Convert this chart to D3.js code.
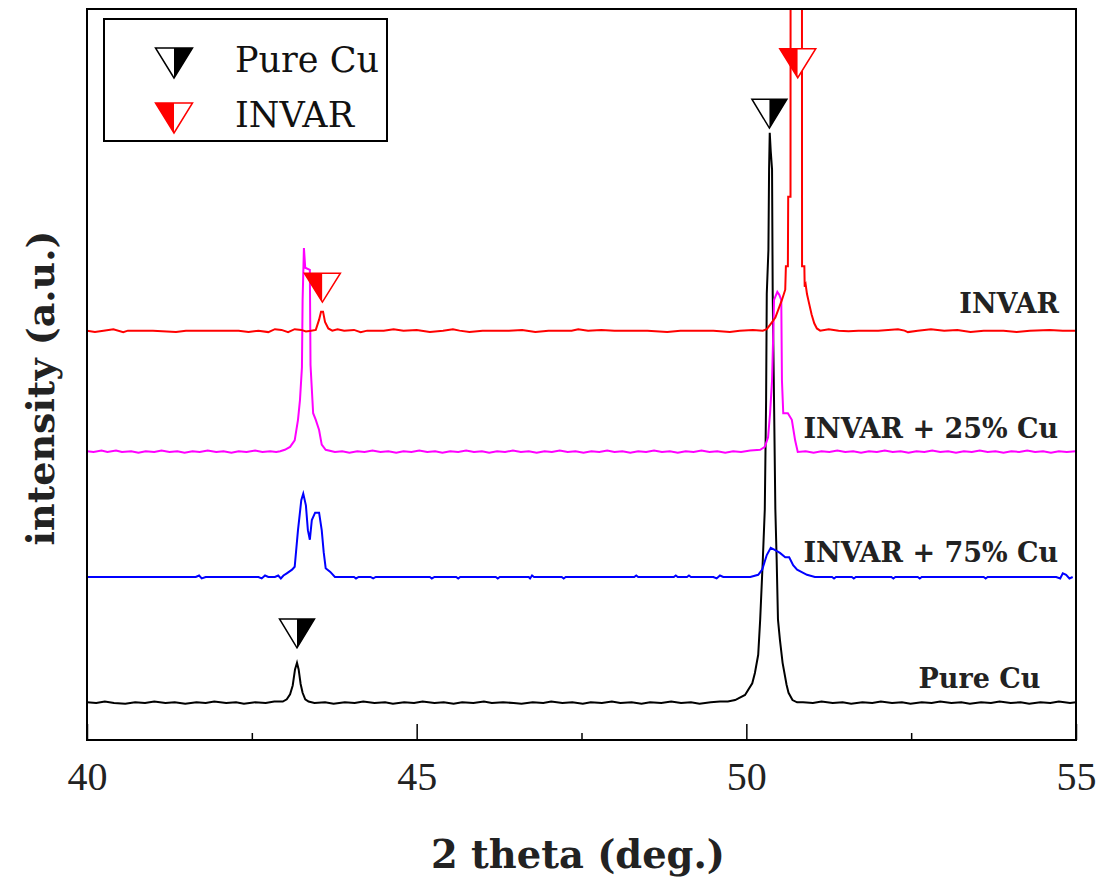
<!DOCTYPE html>
<html>
<head>
<meta charset="utf-8">
<script src="https://cdn.jsdelivr.net/npm/d3@7"></script>
<style>
  body { margin: 0; background: #fff; }
  svg { display: block; }
</style>
</head>
<body>
<div id="chart"></div>
<script>
// XRD patterns, [2theta (deg), intensity above own baseline (a.u.)]
const pureCu = [
  [40.00,0.1],[40.14,0],[40.27,0.2],[40.41,0],[40.58,-0.1],[40.73,0.1],[40.88,0],[41.02,0.2],[41.19,0],[41.33,0.1],
  [41.49,-0.1],[41.66,0.1],[41.80,0],[41.93,0.2],[42.11,0],[42.26,0.1],[42.38,-0.1],[42.55,0.1],[42.71,0],[42.84,0.2],
  [42.97,0.2],[43.03,0.5],[43.08,1.2],[43.12,2.4],[43.155,4.6],[43.185,5.5],[43.21,4.6],[43.24,2.6],[43.27,1.4],[43.31,0.5],
  [43.36,0.2],[43.45,0],[43.61,0.1],[43.74,-0.1],[43.91,0.1],[44.06,0],[44.19,0.2],[44.36,0],[44.52,0.1],[44.64,-0.1],
  [44.81,0.1],[44.96,0],[45.09,0.2],[45.27,0],[45.41,0.1],[45.56,-0.1],[45.69,0.1],[45.86,0],[46.02,0.2],[46.14,0],
  [46.31,0.1],[46.47,0],[46.59,-0.1],[46.76,0.1],[46.92,0],[47.04,0.2],[47.21,0],[47.36,0.1],[47.52,-0.1],[47.64,0.1],
  [47.81,0],[47.96,0.2],[48.09,0],[48.26,0.1],[48.41,-0.1],[48.54,0.1],[48.71,0],[48.86,0.2],[49.01,0],[49.16,0.1],
  [49.29,-0.1],[49.46,0.1],[49.60,0.2],[49.72,0.2],[49.83,0.4],[49.98,1.1],[50.09,2.7],[50.13,4.1],[50.18,6.6],[50.21,11.4],
  [50.25,19.6],[50.28,26.5],[50.30,41.5],[50.31,56],[50.335,62],[50.345,73],[50.355,78],[50.37,75.5],[50.39,73],[50.40,56],
  [50.42,41.5],[50.44,26.5],[50.46,19.6],[50.48,11.4],[50.51,8.6],[50.55,5.5],[50.61,2.5],[50.64,1.4],[50.70,0.4],[50.77,0.1],
  [50.86,0.1],[51.01,0],[51.14,0.2],[51.31,0],[51.46,0.1],[51.59,-0.1],[51.76,0.1],[51.91,0],[52.04,0.2],[52.21,0],
  [52.36,0.1],[52.49,-0.1],[52.66,0.1],[52.81,0],[52.94,0.2],[53.11,0],[53.26,0.1],[53.39,-0.1],[53.56,0.1],[53.71,0],
  [53.84,0.2],[54.01,0],[54.16,0.1],[54.29,-0.1],[54.46,0.1],[54.61,0],[54.74,0.2],[54.91,0],[55.00,0.1]
];
const cu75 = [
  [40.00,0],[40.40,0],[40.80,0],[41.20,0],[41.65,0],[41.70,0.2],[41.74,-0.2],[41.80,0],[42.30,0],[42.60,0],
  [42.65,-0.2],[42.70,0.2],[42.75,0],[42.85,0],[42.90,0.2],[42.94,-0.2],[42.98,0.2],[43.03,0.5],[43.11,1.0],[43.15,1.4],
  [43.20,6.4],[43.25,10.5],[43.28,11.4],[43.32,9.8],[43.35,6.4],[43.38,5.1],[43.41,7.8],[43.46,8.8],[43.52,8.8],[43.56,6.4],
  [43.59,3.4],[43.62,1.2],[43.69,0.7],[43.76,0],[43.84,0],[44.05,0],[44.08,-0.2],[44.12,0],[44.30,0],[44.34,-0.2],
  [44.38,0],[45.20,0],[45.23,-0.2],[45.27,0],[45.60,0],[45.63,-0.2],[45.66,0],[46.20,0],[46.23,-0.2],[46.26,0],
  [46.70,0],[46.72,-0.2],[46.75,0.2],[46.78,0],[47.20,0],[47.23,-0.2],[47.26,0],[48.30,0],[48.33,0.2],[48.36,0],
  [48.90,0],[48.93,0.2],[48.96,0],[49.10,0],[49.13,0.2],[49.16,0],[49.50,0],[49.55,-0.2],[49.60,0.2],[49.65,0],
  [50.06,0],[50.18,0.3],[50.24,1.0],[50.31,3.0],[50.37,4.0],[50.43,3.7],[50.51,3.3],[50.59,2.7],[50.65,2.7],[50.71,1.6],
  [50.77,1.0],[50.92,0.3],[51.04,0],[51.30,0],[51.33,-0.2],[51.36,0],[51.60,0],[51.63,-0.2],[51.66,0],[52.20,0],
  [52.23,-0.2],[52.26,0],[52.60,0],[52.63,-0.2],[52.66,0],[53.60,0],[53.63,-0.2],[53.66,0],[54.70,0],[54.76,-0.2],
  [54.80,0.5],[54.85,0.3],[54.90,-0.2],[54.95,0]
];
const cu25 = [
  [40.00,0.1],[40.10,0],[40.22,0.2],[40.31,0],[40.44,0.2],[40.53,0],[40.67,0.1],[40.78,-0.1],[40.89,0.1],[41.02,0],
  [41.13,0.2],[41.25,0],[41.37,0.1],[41.48,-0.1],[41.60,0.1],[41.71,0],[41.83,0.2],[41.96,0],[42.07,0.1],[42.19,-0.1],
  [42.30,0.1],[42.42,0],[42.55,0.2],[42.66,0],[42.78,0.1],[42.87,0],[42.93,0.1],[43.00,0.3],[43.08,0.7],[43.15,1.6],
  [43.20,4.4],[43.23,7.1],[43.26,11.6],[43.27,20.8],[43.29,27.9],[43.31,25.2],[43.38,24.9],[43.39,11.9],[43.43,5.3],[43.47,4.4],
  [43.52,3.0],[43.56,1.0],[43.62,0.3],[43.76,0],[43.87,0.1],[43.98,-0.1],[44.10,0.1],[44.21,0],[44.33,0.2],[44.45,0],
  [44.57,0.1],[44.69,-0.1],[44.80,0.1],[44.92,0],[45.04,0.2],[45.16,0],[45.28,0.1],[45.39,-0.1],[45.51,0.1],[45.63,0],
  [45.75,0.2],[45.87,0],[45.99,0.1],[46.10,-0.1],[46.22,0.1],[46.34,0],[46.46,0.2],[46.58,0],[46.70,0.1],[46.82,-0.1],
  [46.94,0.1],[47.05,0],[47.17,0.2],[47.29,0],[47.41,0.1],[47.53,-0.1],[47.65,0.1],[47.77,0],[47.89,0.2],[48.00,0],
  [48.12,0.1],[48.24,-0.1],[48.36,0.1],[48.48,0],[48.60,0.2],[48.72,0],[48.84,0.1],[48.96,-0.1],[49.08,0.1],[49.20,0],
  [49.32,0.2],[49.44,0],[49.56,0.1],[49.68,-0.1],[49.80,0.1],[49.92,0],[50.06,0.2],[50.21,0.3],[50.28,0.7],[50.33,2.0],
  [50.36,5.3],[50.39,9.8],[50.41,16.8],[50.42,20.8],[50.47,21.9],[50.50,21.5],[50.53,20.8],[50.54,9.8],[50.56,5.3],[50.63,5.3],
  [50.69,4.4],[50.74,1.6],[50.78,0],[50.90,0.1],[51.02,-0.1],[51.14,0.1],[51.26,0],[51.38,0.2],[51.50,0],[51.62,0.1],
  [51.74,-0.1],[51.86,0.1],[51.98,0],[52.10,0.2],[52.22,0],[52.34,0.1],[52.46,-0.1],[52.58,0.1],[52.70,0],[52.82,0.2],
  [52.94,0],[53.06,0.1],[53.18,-0.1],[53.30,0.1],[53.42,0],[53.54,0.2],[53.66,0],[53.78,0.1],[53.90,-0.1],[54.02,0.1],
  [54.14,0],[54.26,0.2],[54.38,0],[54.50,0.1],[54.62,-0.1],[54.74,0.1],[54.86,0],[55.00,0.1]
];
const invar = [
  [40.00,0],[40.12,-0.2],[40.25,0],[40.40,0.2],[40.55,-0.2],[40.62,0],[41.00,0],[41.35,-0.2],[41.50,0],[41.90,0],
  [42.30,0],[42.45,-0.2],[42.60,0],[42.75,-0.2],[42.85,0.2],[42.95,0.1],[43.05,-0.2],[43.15,0.2],[43.25,0.1],[43.32,-0.1],
  [43.40,0],[43.47,0.1],[43.52,1.5],[43.55,2.6],[43.58,2.6],[43.61,1.2],[43.66,0.3],[43.72,0],[43.80,0.2],[43.90,0],
  [44.05,0.1],[44.15,-0.2],[44.25,0],[44.50,0],[44.65,0.2],[44.80,0],[45.00,0.1],[45.20,-0.2],[45.40,0],[45.55,0.2],
  [45.65,0],[45.80,-0.2],[46.00,0],[46.40,0],[46.60,0.1],[46.80,-0.2],[47.00,0],[47.35,0],[47.45,0.2],[47.60,0],
  [47.80,0.1],[48.00,0],[48.50,0],[48.80,-0.2],[49.00,0],[49.50,0],[49.75,-0.2],[49.90,0],[50.10,0.1],[50.25,0],
  [50.31,0.2],[50.36,0.8],[50.44,1.8],[50.54,4.2],[50.59,5.6],[50.60,8.8],[50.63,8.8],[50.635,18.3],[50.67,18.3],[50.675,150],
  [50.76,170],[50.84,150],[50.845,8.8],[50.88,8.8],[50.885,6.0],[50.90,6.3],[50.92,5.0],[50.95,3.8],[50.99,2.2],[51.03,1.0],
  [51.07,0.3],[51.12,0],[51.25,0.2],[51.40,0],[51.55,-0.1],[51.70,0],[52.00,0],[52.30,0.2],[52.40,0],[52.45,-0.2],
  [52.60,0],[52.80,0.2],[53.00,0],[53.20,0.1],[53.40,-0.2],[53.60,0],[53.90,0],[54.10,-0.2],[54.30,0],[54.60,0.1],
  [54.80,0],[55.00,0]
];

const seriesNames = ["Pure Cu", "INVAR + 75% Cu", "INVAR + 25% Cu", "INVAR"];
const seriesData = [pureCu, cu75, cu25, invar];
const seriesOffsets = [5.06, 22.3, 39.4, 56.0];
const seriesColors = ["#000000", "#0000ff", "#ff00ff", "#ff0000"];
// where each curve's name is written (2theta, absolute a.u.)
const labelX = [54.46, 54.73, 54.73, 54.74];
const labelY = [7.1, 24.4, 41.3, 58.4];

// peak markers: tip position [2theta, absolute a.u.]
const cuMarks = [[43.185, 12.6], [50.35, 83.7]];
const invarMarks = [[43.57, 59.9], [50.78, 90.6]];

const majorTicks = [40, 45, 50, 55];
const minorTicks = [42.5, 47.5, 52.5];

const svg = d3.select("#chart").append("svg")
  .attr("width", 1099)
  .attr("height", 881);

const x = d3.scaleLinear().domain([40, 55]).range([87, 1076]);
const y = d3.scaleLinear().domain([0, 100]).range([740, 9]);

svg.append("defs").append("clipPath")
  .attr("id", "plot-clip")
  .append("rect")
  .attr("x", 87).attr("y", 9)
  .attr("width", 1076 - 87).attr("height", 740 - 9);

const plot = svg.append("g").attr("clip-path", "url(#plot-clip)");

seriesData.forEach((data, i) => {
  const line = d3.line()
    .x(d => x(d[0]))
    .y(d => y(seriesOffsets[i] + d[1]));
  plot.append("path")
    .datum(data)
    .attr("d", line)
    .attr("fill", "none")
    .attr("stroke", seriesColors[i])
    .attr("stroke-width", 2)
    .attr("stroke-linejoin", "miter");
});

// half filled down-triangle, tip at (0,0)
function marker(g, color, filledSide, w, h) {
  const left = [[-w / 2, -h], [0, -h], [0, 0]];
  const right = [[0, -h], [w / 2, -h], [0, 0]];
  g.append("path")
    .attr("d", d3.line()(left) + "Z")
    .attr("fill", filledSide === "left" ? color : "#fff");
  g.append("path")
    .attr("d", d3.line()(right) + "Z")
    .attr("fill", filledSide === "right" ? color : "#fff");
  g.append("path")
    .attr("d", d3.line()([[-w / 2, -h], [w / 2, -h], [0, 0]]) + "Z")
    .attr("fill", "none")
    .attr("stroke", color)
    .attr("stroke-width", 1.5);
}

cuMarks.forEach(d => {
  marker(svg.append("g").attr("transform", `translate(${x(d[0])},${y(d[1])})`), "#000", "right", 35, 29);
});
invarMarks.forEach(d => {
  marker(svg.append("g").attr("transform", `translate(${x(d[0])},${y(d[1])})`), "#ff0000", "left", 36, 29);
});

// frame
svg.append("rect")
  .attr("x", 87).attr("y", 9)
  .attr("width", 1076 - 87).attr("height", 740 - 9)
  .attr("fill", "none")
  .attr("stroke", "#000")
  .attr("stroke-width", 2);

const xAxis = svg.append("g")
  .attr("transform", "translate(0,740)")
  .call(d3.axisBottom(x).tickValues(majorTicks).tickSizeInner(-16).tickSizeOuter(0).tickPadding(22).tickFormat(d3.format("d")));
xAxis.select(".domain").remove();
xAxis.selectAll(".tick line").attr("stroke-width", 1.5);
xAxis.selectAll(".tick text")
  .attr("dy", "0.71em")
  .style("font-family", "'Liberation Serif', serif")
  .style("font-size", "40px")
  .attr("fill", "#222");

svg.append("g")
  .attr("transform", "translate(0,740)")
  .call(d3.axisBottom(x).tickValues(minorTicks).tickSizeInner(-7).tickSizeOuter(0).tickFormat(""))
  .call(g => g.select(".domain").remove())
  .selectAll(".tick line").attr("stroke-width", 1.5);

svg.append("text")
  .attr("x", 578)
  .attr("y", 868)
  .attr("text-anchor", "middle")
  .attr("textLength", 294)
  .attr("lengthAdjust", "spacingAndGlyphs")
  .style("font-family", "'DejaVu Serif', serif")
  .style("font-weight", "bold")
  .style("font-size", "40px")
  .attr("fill", "#222")
  .text("2 theta (deg.)");

svg.append("text")
  .attr("transform", "translate(54,388) rotate(-90)")
  .attr("text-anchor", "middle")
  .style("font-family", "'DejaVu Serif', serif")
  .style("font-weight", "bold")
  .style("font-size", "38px")
  .attr("fill", "#222")
  .text("intensity (a.u.)");

seriesNames.forEach((name, i) => {
  svg.append("text")
    .attr("x", x(labelX[i]))
    .attr("y", y(labelY[i]))
    .attr("text-anchor", "end")
    .style("font-family", "'DejaVu Serif', serif")
    .style("font-weight", "bold")
    .style("font-size", "27px")
    .attr("fill", "#222")
    .text(name);
});

// legend
const legend = svg.append("g").attr("transform", "translate(104,19)");
legend.append("rect")
  .attr("width", 283).attr("height", 122)
  .attr("fill", "#fff")
  .attr("stroke", "#000")
  .attr("stroke-width", 2);

const legendItems = [
  { label: "Pure Cu", color: "#000", side: "right" },
  { label: "INVAR", color: "#ff0000", side: "left" }
];
legendItems.forEach((d, i) => {
  marker(legend.append("g").attr("transform", `translate(70,${59 + i * 55})`), d.color, d.side, 37, 30);
  legend.append("text")
    .attr("x", 131)
    .attr("y", 53 + i * 55)
    .style("font-family", "'DejaVu Serif', serif")
    .style("font-size", "35px")
    .attr("fill", "#111")
    .text(d.label);
});
</script>
</body>
</html>
